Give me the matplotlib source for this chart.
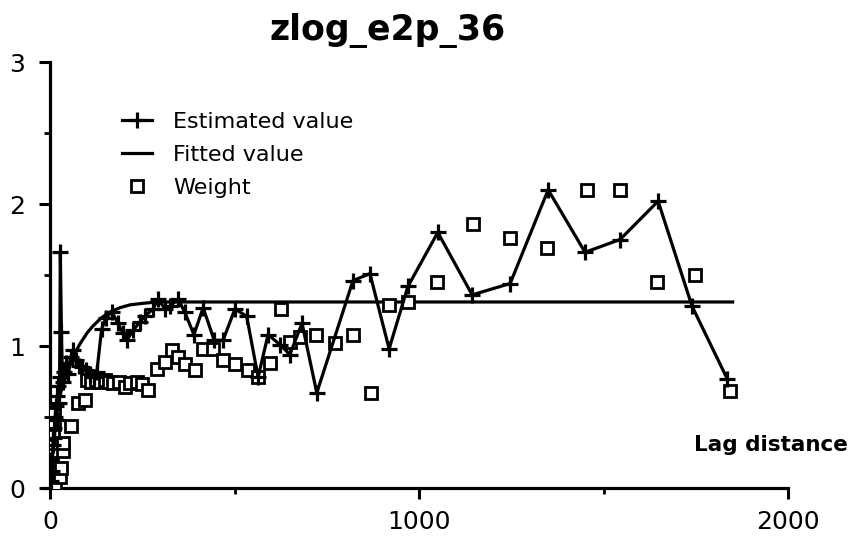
import matplotlib
matplotlib.use("Agg")
import matplotlib.pyplot as plt
from matplotlib.ticker import MultipleLocator, FixedLocator

# Experimental variogram of zlog_e2p_36
est_lag = [2, 4, 6, 8, 10, 12, 14, 16, 18, 20, 22, 24, 26, 28, 31, 34, 38, 44, 50, 56,
           62, 70, 78, 87, 97, 108, 118, 127, 140, 152, 168, 184, 198, 208, 225, 244,
           257, 279, 293, 312, 325, 347, 365, 390, 415, 445, 469, 501, 533, 564, 591,
           623, 650, 683, 723, 821, 867, 919, 970, 1051, 1144, 1247, 1350, 1450, 1545,
           1648, 1740, 1835]
est_val = [0.05, 0.20, 0.12, 0.30, 0.42, 0.35, 0.50, 0.58, 0.48, 0.65, 0.72, 0.60, 0.78,
           1.66, 1.10, 0.75, 0.82, 0.88, 0.80, 0.92, 0.97, 0.90, 0.86, 0.85, 0.83, 0.80,
           0.78, 0.82, 1.12, 1.20, 1.24, 1.16, 1.09, 1.04, 1.11, 1.17, 1.21, 1.26, 1.33,
           1.26, 1.28, 1.33, 1.24, 1.08, 1.27, 1.04, 1.04, 1.26, 1.21, 0.78, 1.08, 1.01,
           0.94, 1.16, 0.67, 1.46, 1.51, 0.98, 1.42, 1.80, 1.36, 1.44, 2.10, 1.66, 1.75,
           2.02, 1.28, 0.77]

# Fitted model curve
fit_lag = [0, 10, 20, 30, 45, 62, 80, 100, 116, 140, 163, 190, 217, 250, 290, 340, 1850]
fit_val = [0.30, 0.45, 0.57, 0.68, 0.80, 0.92, 1.01, 1.09, 1.14, 1.20, 1.24, 1.27, 1.29,
           1.30, 1.31, 1.31, 1.31]

# Weights (pair counts, rescaled)
w_lag = [2, 3, 4, 5, 6, 7, 8, 10, 12, 14, 27, 30, 35, 36, 57, 76, 95,
         100, 112, 124, 136, 148, 160, 172, 186, 203, 218, 235, 249, 266, 290, 312, 331,
         347, 366, 393, 415, 442, 469, 501, 537, 564, 596, 625, 650, 678, 721, 772, 821,
         870, 919, 970, 1049, 1146, 1247, 1347, 1455, 1545, 1645, 1748, 1843]
w_val = [0.02, 0.08, 0.15, 0.20, 0.26, 0.32, 0.38, 0.45, 0.52, 0.01, 0.08, 0.14, 0.26,
         0.32, 0.44, 0.60, 0.62,
         0.76, 0.75, 0.76, 0.75, 0.76, 0.75, 0.74, 0.75, 0.71, 0.74, 0.75, 0.73, 0.69,
         0.84, 0.89, 0.97, 0.92, 0.87, 0.83, 0.98, 0.98, 0.90, 0.87, 0.83, 0.78, 0.88,
         1.26, 1.03, 1.06, 1.08, 1.02, 1.08, 0.67, 1.29, 1.31, 1.45, 1.86, 1.76, 1.69,
         2.10, 2.10, 1.45, 1.50, 0.68]

x_ticks = [0, 1000, 2000]
y_ticks = [0, 1, 2, 3]

W, H = 851, 541
fig = plt.figure(figsize=(W / 100, H / 100), dpi=100)
ax = fig.add_axes([50 / W, (H - 488) / H, (788 - 50) / W, (488 - 62) / H])

ax.plot(fit_lag, fit_val, color="black", lw=2.3, zorder=2, label="Fitted value")
ax.plot(w_lag, w_val, linestyle="none", marker="s", markersize=8.5,
        markerfacecolor="white", markeredgecolor="black", markeredgewidth=2.0,
        zorder=3, label="Weight")
ax.plot(est_lag, est_val, color="black", lw=2.3, marker="+", markersize=11,
        markeredgewidth=2.3, zorder=4, label="Estimated value")

ax.set_xlim(0, 2000)
ax.set_ylim(0, 3)
for side in ("top", "right"):
    ax.spines[side].set_visible(False)
for side in ("left", "bottom"):
    ax.spines[side].set_linewidth(2.3)
ax.spines["bottom"].set_bounds(-20, 2000)

ax.xaxis.set_major_locator(FixedLocator(x_ticks))
ax.yaxis.set_major_locator(FixedLocator(y_ticks))
ax.xaxis.set_minor_locator(MultipleLocator(500))
ax.yaxis.set_minor_locator(MultipleLocator(0.5))
ax.tick_params(which="major", direction="out", length=8, width=2.2,
               labelsize=18, pad=8)
ax.tick_params(which="minor", direction="out", length=4, width=2.0)
ax.set_xticklabels([str(t) for t in x_ticks])
ax.set_yticklabels([str(t) for t in y_ticks])
ax.tick_params(axis="y", pad=10)

handles, labels = ax.get_legend_handles_labels()
order = [2, 0, 1]
leg = ax.legend([handles[i] for i in order], [labels[i] for i in order],
                loc="upper left", bbox_to_anchor=(0.0976, 0.882), frameon=False,
                fontsize=16, handlelength=1.35, handletextpad=0.95, labelspacing=0.58,
                borderpad=0, borderaxespad=0, numpoints=1)

fig.text(388 / W, 1 - 31 / H, "zlog_e2p_36", ha="center", va="center",
         fontsize=25, fontweight="bold")
fig.text(848 / W, 1 - 445 / H, "Lag distance", ha="right", va="center",
         fontsize=15.5, fontweight="bold")

fig.savefig("out.png", dpi=100)
